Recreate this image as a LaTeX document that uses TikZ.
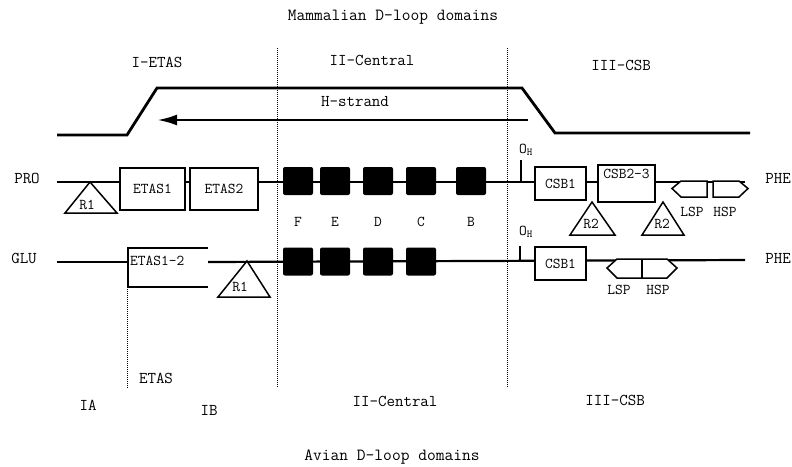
\documentclass[tikz,border=0pt]{standalone}
\usepackage{fontspec}
\usetikzlibrary{arrows.meta,positioning}
\newcommand\lbfont{\ttfamily\fontsize{15}{17}\selectfont}
\newcommand\domfont{\ttfamily\fontsize{16.5}{19}\selectfont}
\tikzset{
  dna/.style={line width=2.2pt},
  seg/.style={draw,fill=white,line width=1.5pt,inner sep=0pt,font=\lbfont},
  blk/.style={fill=black,rounded corners=2pt,minimum width=30pt,minimum height=28pt,inner sep=0pt},
  tri/.style={draw,line width=1.5pt,fill=white,line join=miter},
  border/.style={densely dotted,line width=1pt},
}

\begin{document}
\begin{tikzpicture}[x=1pt,y=-1pt,
  dom/.style={font=\domfont,inner sep=1pt},
  lbl/.style={font=\lbfont,inner sep=1pt}]
  \useasboundingbox (0,0) rectangle (792,466);
  % titles and domain borders
  \node[dom,font=\ttfamily\fontsize{17}{19}\selectfont] (mtitle) at (393,17) {Mammalian D-loop domains};
  \node[dom,font=\ttfamily\fontsize{17}{19}\selectfont] (atitle) at (392,457) {Avian D-loop domains};
  \draw[border] (277,48) -- (277,388);
  \draw[border] (507,48) -- (507,388);
  \draw[border] (127,287) -- (127,388);
  \node[dom] (d1) at (157,62) {I-ETAS};
  \node[dom] (d2) at (372,60) {II-Central};
  \node[dom] (d3) at (621,65) {III-CSB};
  \node[dom] (ia) at (88,405) {IA};
  \node[dom] (etas) at (156,378) {ETAS};
  \node[dom] (ib) at (209,410) {IB};
  \node[dom] (a2) at (395,401) {II-Central};
  \node[dom] (a3) at (615,400) {III-CSB};
  % H-strand
  \draw[line width=2.8pt] (57,135) -- (127,135) -- (157,88) -- (522,88) -- (555,133) -- (750,133);
  \coordinate (hs) at (528,120);
  \coordinate (ht) at (157,120);
  \draw[line width=2.8pt,-{Latex[length=20pt,width=11pt]}] (hs) -- (ht);
  \node[dom] (hlab) at (355,102) {H-strand};
  % mammalian row
  \node[dom] (pro) at (27,178) {PRO};
  \node[dom] (phe1) at (778,178) {PHE};
  \coordinate (pw) at (57,182);
  \coordinate (pe) at (745,182);
  \draw[dna] (pw) -- (pe);
  \node[seg,minimum width=65pt,minimum height=42pt] (etas1) at (152.5,189) {ETAS1};
  \node[seg,minimum width=68pt,minimum height=42pt] (etas2) at (224,189) {ETAS2};
  \draw[tri] (90,182) -- (117,213) -- (65,213) -- cycle;
  \node[lbl] (r1p) at (87,205) {R1};
  \foreach \n/\x in {F/298,E/335,D/378,C/421,B/471} {
    \node[blk] (p\n) at (\x,181) {};
    \node[lbl] (l\n) at (\x,222) {\n};
  }
  \draw[line width=2.4pt] (521,160) -- (521,182);
  \node[lbl] (ohp) at (526,150) {O\textsubscript{H}};
  \node[seg,minimum width=51pt,minimum height=33pt] (csb1p) at (560.5,183.5) {CSB1};
  \node[seg,minimum width=57pt,minimum height=37pt,
    label={[lbl,anchor=north,yshift=-4pt]north:CSB2-3}] (csb23) at (626.5,183.5) {};
  \draw[tri] (592,202) -- (615,235) -- (570,235) -- cycle;
  \node[lbl] (r2a) at (591,224) {R2};
  \draw[tri] (663,202) -- (684,235) -- (642,235) -- cycle;
  \node[lbl] (r2b) at (662,224) {R2};
  \draw[tri] (672,188.5) -- (681,181) -- (707,181) -- (707,197) -- (681,197) -- cycle;
  \draw[tri] (713,181) -- (739,181) -- (748,188.5) -- (739,197) -- (713,197) -- cycle;
  \node[lbl] (lspp) at (692,212) {LSP};
  \node[lbl] (hspp) at (725,212) {HSP};
  % avian row
  \node[dom] (glu) at (24,258) {GLU};
  \node[dom] (phe2) at (778,258) {PHE};
  \coordinate (gw) at (57,262);
  \coordinate (g1) at (128,262);
  \coordinate (g2) at (208,262);
  \coordinate (ge) at (745,260);
  \draw[dna] (gw) -- (g1);
  \draw[dna] (g2) -- (ge);
  \draw[line width=1.5pt] (208,248) -- (128,248) -- (128,287) -- (208,287);
  \node[lbl,anchor=west] (etas12) at (129,261) {ETAS1-2};
  \draw[tri] (247,261) -- (270,297) -- (218,297) -- cycle;
  \node[lbl] (r1g) at (240,287) {R1};
  \foreach \n/\x in {F/298,E/335,D/378,C/421} \node[blk] (g\n) at (\x,261.5) {};
  \draw[line width=2.4pt] (520,246) -- (520,261);
  \node[lbl] (ohg) at (526,232) {O\textsubscript{H}};
  \node[seg,minimum width=51pt,minimum height=33pt] (csb1g) at (560.5,263.5) {CSB1};
  \draw[tri] (607,268) -- (617,259) -- (667,259) -- (677,268) -- (667,278) -- (617,278) -- cycle;
  \draw[line width=1.5pt] (642,259) -- (642,278);
  \node[lbl] (lspg) at (619,290) {LSP};
  \node[lbl] (hspg) at (658,290) {HSP};
\end{tikzpicture}
\end{document}
